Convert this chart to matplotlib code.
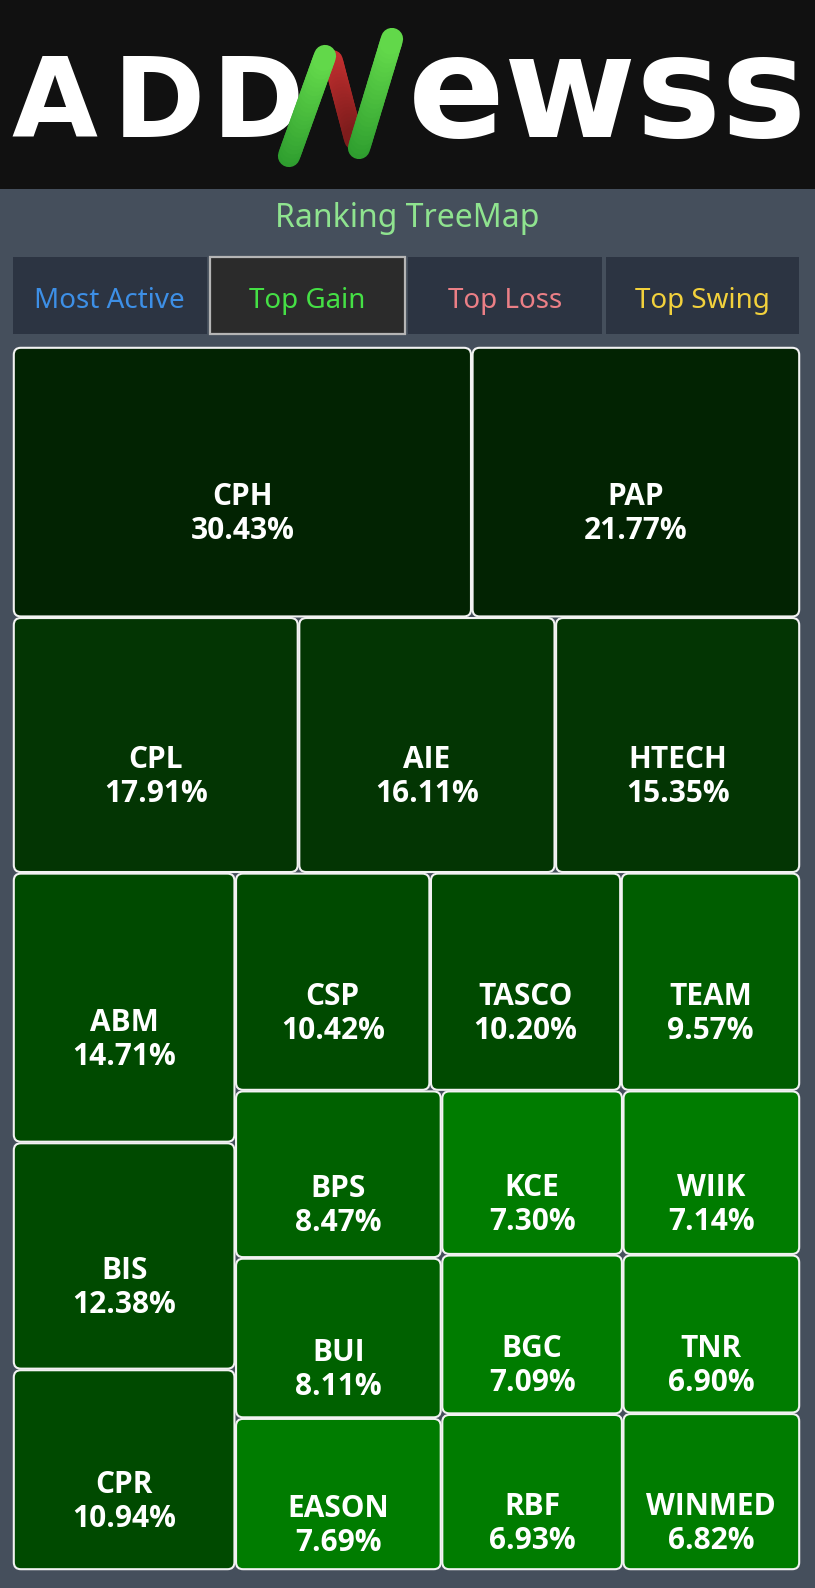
import matplotlib
matplotlib.use("Agg")
import numpy as np
import matplotlib.pyplot as plt
from matplotlib.patches import FancyBboxPatch, Rectangle
from matplotlib.colors import ListedColormap, BoundaryNorm, to_rgb
from matplotlib.lines import Line2D

# ---------------- data ----------------
tickers = ["CPH", "PAP", "CPL", "AIE", "HTECH", "ABM", "BIS", "CPR", "CSP", "TASCO",
           "TEAM", "BPS", "BUI", "EASON", "KCE", "WIIK", "BGC", "RBF", "TNR", "WINMED"]
gains = [30.43, 21.77, 17.91, 16.11, 15.35, 14.71, 12.38, 10.94, 10.42, 10.20,
         9.57, 8.47, 8.11, 7.69, 7.30, 7.14, 7.09, 6.93, 6.90, 6.82]
tabs = ["Most Active", "Top Gain", "Top Loss", "Top Swing"]
title = "Ranking TreeMap"

# ---------------- style ----------------
W, H = 815, 1588
BG = "#454f5c"
HEADER = "#111111"
TAB_BG = "#2c3442"
tab_colors = ["#3d8fe6", "#45e045", "#eb7f86", "#f2d13c"]
bounds = [0, 8, 9, 10, 15, 20, 100]
cmap = ListedColormap(["#007c00", "#006100", "#005d00", "#004a00", "#033503", "#022302"])
norm = BoundaryNorm(bounds, cmap.N)
UI_FONT = ["Noto Sans", "DejaVu Sans"]
LABEL_FONT = ["Open Sans", "DejaVu Sans"]


def worst(row, side):
    s = sum(row)
    return max(max(side * side * r / (s * s), (s * s) / (side * side * r)) for r in row)


def squarify(values, x, y, w, h):
    total = sum(values)
    areas = [v * w * h / total for v in values]
    rects = []
    while areas:
        side = min(w, h)
        row = [areas[0]]
        i = 1
        while i < len(areas) and worst(row + [areas[i]], side) <= worst(row, side):
            row.append(areas[i])
            i += 1
        s = sum(row)
        if w >= h:
            cw = s / h
            yy = y
            for a in row:
                rh = a / cw
                rects.append((x, yy, cw, rh))
                yy += rh
            x += cw
            w -= cw
        else:
            rh = s / w
            xx = x
            for a in row:
                cw = a / rh
                rects.append((xx, y, cw, rh))
                xx += cw
            y += rh
            h -= rh
        areas = areas[i:]
    return rects


def gradient_stroke(ax, p0, p1, c0, c1, lw, z, n=24):
    c0, c1 = np.array(to_rgb(c0)), np.array(to_rgb(c1))
    xs = np.linspace(p0[0], p1[0], n + 1)
    ys = np.linspace(p0[1], p1[1], n + 1)
    for k in range(n):
        t = k / (n - 1)
        col = c0 * (1 - t) + c1 * t
        ax.add_line(Line2D([xs[k], xs[k + 1]], [ys[k], ys[k + 1]], color=col, lw=lw,
                           solid_capstyle="round", zorder=z))


fig = plt.figure(figsize=(W / 100, H / 100), dpi=100, facecolor=BG)
ax = fig.add_axes([0, 0, 1, 1])
ax.set_xlim(0, W)
ax.set_ylim(H, 0)
ax.axis("off")
ax.set_facecolor(BG)

# header / logo
ax.add_patch(Rectangle((0, 0), W, 189, facecolor=HEADER, edgecolor="none", zorder=1))
for letter, lx in zip("ADD", [11, 113, 212]):
    ax.text(lx, 137, letter, color="white", fontsize=80, fontweight="bold",
            family=["DejaVu Sans"], ha="left", va="baseline", zorder=3)
ax.text(408, 137, "ewss", color="white", fontsize=103, fontweight="bold",
        family=["DejaVu Sans"], ha="left", va="baseline", zorder=3)
# the "N" strokes (bottom -> top)
gradient_stroke(ax, (333, 60), (354, 140), "#c43030", "#7e1c1c", 14, 3)
gradient_stroke(ax, (289, 156), (325, 56), "#2f9e2f", "#62d84a", 16, 4)
gradient_stroke(ax, (359, 148), (392, 39), "#2f9e2f", "#62d84a", 16, 4)

# title
ax.text(W / 2, 227, title, color="#8fe38f", fontsize=23, family=UI_FONT,
        ha="center", va="baseline", zorder=3)

# tabs
tx0, tw, tgap = 13, 193.5, 4.0
for i, (lab, col) in enumerate(zip(tabs, tab_colors)):
    x0 = tx0 + i * (tw + tgap)
    if i == 1:
        ax.add_patch(Rectangle((x0 - 1, 257), tw + 2, 77, facecolor="#2b2b2b",
                               edgecolor="#b5b5b5", lw=1.6, zorder=2))
    else:
        ax.add_patch(Rectangle((x0, 257), tw, 77, facecolor=TAB_BG,
                               edgecolor="none", zorder=2))
    ax.text(x0 + tw / 2, 308, lab, color=col, fontsize=20, family=UI_FONT,
            ha="center", va="baseline", zorder=3)

# treemap
rects = squarify(gains, 13, 347, 787, 1223)
inset = 0.8
for (x, y, w, h), name, g in zip(rects, tickers, gains):
    p = FancyBboxPatch((x + inset, y + inset), w - 2 * inset, h - 2 * inset,
                       boxstyle="round,pad=0,rounding_size=7",
                       facecolor=cmap(norm(g)), edgecolor="#f2f2f2", lw=1.5, zorder=2)
    ax.add_patch(p)
    cx, cy = x + w / 2, y + h / 2
    ax.text(cx, cy + 23, name, color="white", fontsize=21.5, fontweight="bold",
            family=LABEL_FONT, ha="center", va="baseline", zorder=3)
    ax.text(cx, cy + 57, f"{g:.2f}%", color="white", fontsize=21.5, fontweight="bold",
            family=LABEL_FONT, ha="center", va="baseline", zorder=3)

fig.savefig("out.png", dpi=100, facecolor=BG)
